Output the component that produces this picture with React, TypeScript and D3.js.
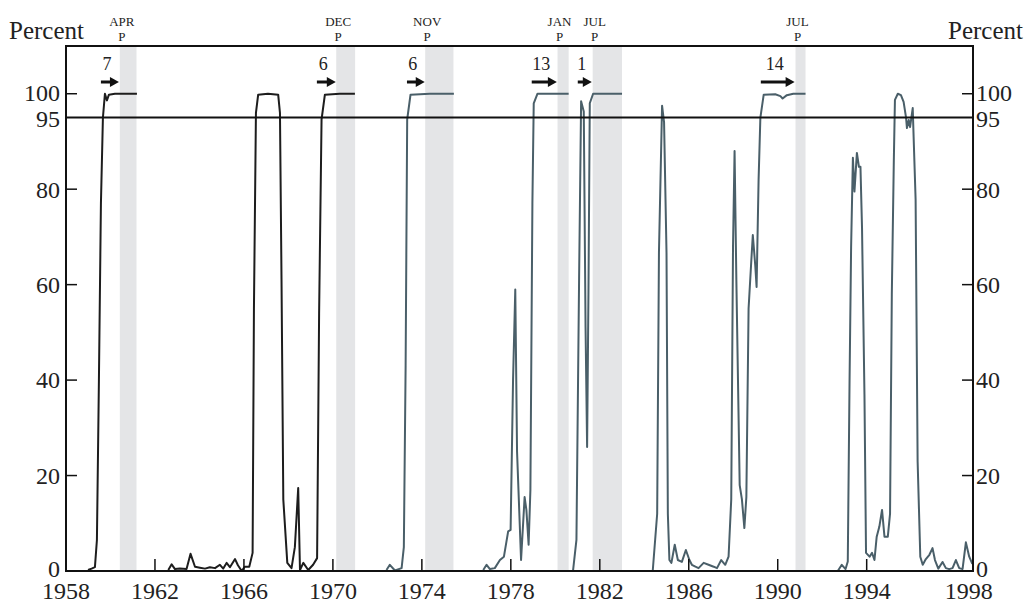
import React, { useRef, useEffect } from "react";
import * as d3 from "d3";

// [year, percent] readings; a null value breaks the line
const earlySeries: [number, number | null][] = [
  [1958.99, 0.2], [1959.15, 0.5], [1959.3, 0.8], [1959.39, 6.5], [1959.48, 40],
  [1959.57, 77], [1959.66, 95], [1959.75, 100], [1959.84, 98.6], [1959.93, 99.8],
  [1960.2, 100], [1960.8, 100], [1961.19, 100], [1961.9, null],
  [1962.6, 0.2], [1962.75, 1.4], [1962.9, 0.4], [1963.12, 0.5], [1963.42, 0.4],
  [1963.6, 3.6], [1963.8, 0.9], [1964.02, 0.7], [1964.25, 0.5], [1964.47, 0.8],
  [1964.7, 0.6], [1964.92, 1.3], [1965.07, 0.5], [1965.22, 1.7], [1965.37, 0.8],
  [1965.6, 2.5], [1965.73, 1.2], [1965.9, 0], [1966.04, 0.9], [1966.24, 0.9],
  [1966.39, 3.8], [1966.45, 55], [1966.54, 96], [1966.64, 99.8], [1967.08, 100],
  [1967.54, 99.8], [1967.62, 96], [1967.69, 61], [1967.77, 15], [1967.95, 1.7],
  [1968.14, 0.6], [1968.29, 5], [1968.44, 17.4], [1968.52, 0.2], [1968.67, 1.7],
  [1968.89, 0.2], [1969.11, 1.3], [1969.29, 2.7], [1969.38, 54], [1969.49, 94.6],
  [1969.64, 99.8], [1970.31, 100], [1970.99, 100],
];

const lateSeries: [number, number | null][] = [
  [1972.41, 0.2], [1972.56, 1.3], [1972.79, 0.1], [1973.09, 0.6], [1973.19, 5],
  [1973.27, 43], [1973.34, 94.6], [1973.49, 99.8], [1974.36, 100], [1975.44, 100],
  [1976.0, null],
  [1976.76, 0.2], [1976.91, 1.3], [1977.06, 0.4], [1977.28, 0.6], [1977.51, 2.3],
  [1977.69, 3], [1977.88, 8.3], [1977.99, 8.6], [1978.1, 40], [1978.2, 59],
  [1978.28, 25], [1978.46, 2.3], [1978.62, 15.5], [1978.7, 12.8], [1978.8, 5.5],
  [1978.88, 17], [1978.97, 77], [1979.03, 98], [1979.2, 100], [1980.6, 100],
  [1980.7, null],
  [1980.8, 0.2], [1980.95, 6.5], [1981.07, 61.6], [1981.16, 98.4], [1981.28, 96.3],
  [1981.36, 51], [1981.43, 26], [1981.49, 58], [1981.55, 98], [1981.7, 100],
  [1983.0, 100], [1983.6, null],
  [1984.38, 0], [1984.58, 12], [1984.66, 66.7], [1984.8, 97.5], [1984.89, 94],
  [1985.0, 66.7], [1985.06, 12], [1985.13, 2.3], [1985.22, 1.7], [1985.37, 5.5],
  [1985.51, 2.3], [1985.69, 1.9], [1985.87, 4.4], [1986.03, 2.3], [1986.14, 1.3],
  [1986.3, 0.9], [1986.44, 0.6], [1986.67, 1.7], [1986.89, 1.3], [1987.12, 0.9],
  [1987.27, 0.6], [1987.46, 2.3], [1987.64, 1.3], [1987.79, 3], [1987.91, 15],
  [1987.99, 68], [1988.06, 88], [1988.14, 61], [1988.29, 18], [1988.39, 15],
  [1988.5, 9], [1988.59, 15.5], [1988.69, 55], [1988.8, 64], [1988.88, 70.4],
  [1988.99, 64], [1989.05, 59.5], [1989.14, 82], [1989.22, 95], [1989.37, 99.8],
  [1989.89, 99.9], [1990.12, 99.5], [1990.22, 99], [1990.41, 99.7], [1990.7, 100],
  [1991.25, 100], [1992.0, null],
  [1992.7, 0], [1992.88, 1.3], [1993.05, 0.4], [1993.15, 2], [1993.23, 40],
  [1993.3, 68], [1993.38, 86.6], [1993.45, 79.5], [1993.56, 87.6], [1993.65, 84.7],
  [1993.72, 84.7], [1993.79, 72], [1993.9, 37], [1993.97, 3.8], [1994.13, 3],
  [1994.24, 3.8], [1994.35, 2.3], [1994.45, 7.2], [1994.57, 9.3], [1994.69, 12.8],
  [1994.8, 7.2], [1994.95, 7.2], [1995.05, 12], [1995.13, 58], [1995.22, 86],
  [1995.27, 98.7], [1995.4, 100], [1995.54, 99.7], [1995.66, 98.3], [1995.77, 95],
  [1995.81, 92.8], [1995.89, 94.5], [1995.95, 93], [1996.07, 97], [1996.11, 91],
  [1996.2, 77.8], [1996.29, 23], [1996.41, 3], [1996.52, 1.3], [1996.66, 2.5],
  [1996.82, 3.4], [1996.96, 4.8], [1997.07, 2.3], [1997.22, 0.5], [1997.41, 1.9],
  [1997.56, 0.6], [1997.71, 0.4], [1997.86, 0.6], [1998.01, 2.3], [1998.16, 0.6],
  [1998.31, 0.4], [1998.46, 6], [1998.61, 3], [1998.75, 1.5],
];

// recessions: shaded from start to end, labelled with the peak month
const recessionStart = [1960.42, 1970.15, 1974.15, 1980.1, 1981.68, 1990.8];
const recessionEnd = [1961.17, 1971.0, 1975.42, 1980.6, 1983.0, 1991.25];
const peakMonths = ["APR", "DEC", "NOV", "JAN", "JUL", "JUL"];

// lead-time arrows
const leadStart = [1959.57, 1969.28, 1973.33, 1978.94, 1981.01, 1989.24];
const leadEnd = [1960.38, 1970.13, 1974.13, 1980.07, 1981.64, 1990.76];
const leadMonths = ["7", "6", "6", "13", "1", "14"];

const yTicks = [0, 20, 40, 60, 80, 95, 100];
const xTickYears = [1958, 1962, 1966, 1970, 1974, 1978, 1982, 1986, 1990, 1994, 1998];

const FONT = "'Liberation Serif', 'Times New Roman', serif";

const App = () => {
  const svgRef = useRef(null);

  useEffect(() => {
    document.body.style.margin = "0";

    const width = 1027;
    const height = 605;
    const frame = { left: 66, right: 973, top: 46, bottom: 571 };

    const svg = d3.select(svgRef.current).attr("width", width).attr("height", height);
    svg.selectAll("*").remove();

    const xScale = d3.scaleLinear().domain([1958, 1998.78]).range([frame.left, frame.right]);
    const yScale = d3.scaleLinear().domain([0, 110]).range([frame.bottom, frame.top]);

    // shaded recessions
    svg
      .append("g")
      .selectAll("rect")
      .data(recessionStart)
      .join("rect")
      .attr("x", (d) => xScale(d))
      .attr("y", frame.top)
      .attr("width", (d, i) => xScale(recessionEnd[i]) - xScale(d))
      .attr("height", frame.bottom - frame.top)
      .attr("fill", "#e4e5e7");

    // peak labels
    const peaks = svg.append("g").style("font-family", FONT).style("font-size", "13px").attr("fill", "#222");
    recessionStart.forEach((d, i) => {
      peaks.append("text").attr("x", xScale(d) + 2).attr("y", 26).attr("text-anchor", "middle").text(peakMonths[i]);
      peaks.append("text").attr("x", xScale(d) + 2).attr("y", 41).attr("text-anchor", "middle").text("P");
    });

    // lines
    const line = d3
      .line<[number, number | null]>()
      .defined((d) => d[1] !== null)
      .x((d) => xScale(d[0]))
      .y((d) => yScale(d[1] as number));

    svg
      .append("path")
      .datum(earlySeries)
      .attr("d", line)
      .attr("fill", "none")
      .attr("stroke", "#1d1d1d")
      .attr("stroke-width", 2)
      .attr("stroke-linejoin", "round");

    svg
      .append("path")
      .datum(lateSeries)
      .attr("d", line)
      .attr("fill", "none")
      .attr("stroke", "#4a5f69")
      .attr("stroke-width", 2)
      .attr("stroke-linejoin", "round");

    // 95 percent threshold
    svg
      .append("line")
      .attr("x1", frame.left)
      .attr("x2", frame.right)
      .attr("y1", yScale(95))
      .attr("y2", yScale(95))
      .attr("stroke", "#111")
      .attr("stroke-width", 2);

    // frame
    svg
      .append("rect")
      .attr("x", frame.left)
      .attr("y", frame.top)
      .attr("width", frame.right - frame.left)
      .attr("height", frame.bottom - frame.top)
      .attr("fill", "none")
      .attr("stroke", "#111")
      .attr("stroke-width", 2);

    // y ticks both sides
    const yAxisG = svg.append("g").style("font-family", FONT).style("font-size", "24px").attr("fill", "#222");
    yTicks.forEach((v) => {
      const y = yScale(v);
      let dy = "0.35em";
      if (v === 0) dy = "0.25em";
      if (v === 100) dy = "0.3em";
      if (v === 95) dy = "0.4em";
      if (v !== 95) {
        yAxisG.append("line").attr("x1", frame.left).attr("x2", frame.left + 11).attr("y1", y).attr("y2", y).attr("stroke", "#111").attr("stroke-width", 1.5);
        yAxisG.append("line").attr("x1", frame.right - 11).attr("x2", frame.right).attr("y1", y).attr("y2", y).attr("stroke", "#111").attr("stroke-width", 1.5);
      }
      yAxisG.append("text").attr("x", frame.left - 6).attr("y", y).attr("dy", dy).attr("text-anchor", "end").text(v);
      yAxisG.append("text").attr("x", frame.right + 3).attr("y", y).attr("dy", dy).attr("text-anchor", "start").text(v);
    });

    // x ticks
    const xAxisG = svg.append("g").style("font-family", FONT).style("font-size", "24px").attr("fill", "#222");
    xTickYears.forEach((yr, i) => {
      const x = xScale(yr);
      if (i > 0 && i < xTickYears.length - 1) {
        xAxisG.append("line").attr("x1", x).attr("x2", x).attr("y1", frame.bottom).attr("y2", frame.bottom - 12).attr("stroke", "#111").attr("stroke-width", 1.5);
      }
      const shift = i === xTickYears.length - 1 ? 13 : 0;
      xAxisG.append("text").attr("x", x + shift).attr("y", 599).attr("text-anchor", "middle").text(yr);
    });

    // axis titles
    svg.append("text").attr("x", 9).attr("y", 39).style("font-family", FONT).style("font-size", "25px").attr("fill", "#222").text("Percent");
    svg.append("text").attr("x", 1023).attr("y", 39).attr("text-anchor", "end").style("font-family", FONT).style("font-size", "25px").attr("fill", "#222").text("Percent");

    // lead arrows
    const arrows = svg.append("g");
    leadStart.forEach((s, i) => {
      const x0 = xScale(s);
      const x1 = xScale(leadEnd[i]);
      const y = 82;
      const head = 9;
      if (x1 - head > x0) {
        arrows.append("line").attr("x1", x0).attr("x2", x1 - head + 1).attr("y1", y).attr("y2", y).attr("stroke", "#111").attr("stroke-width", 3);
      }
      arrows.append("path").attr("d", `M${x1 - head},${y - 5}L${x1},${y}L${x1 - head},${y + 5}Z`).attr("fill", "#111");
      arrows
        .append("text")
        .attr("x", (x0 + x1) / 2 - 3)
        .attr("y", 70)
        .attr("text-anchor", "middle")
        .style("font-family", FONT)
        .style("font-size", "18px")
        .attr("fill", "#222")
        .text(leadMonths[i]);
    });
  }, []);

  return (
    <div>
      <svg ref={svgRef} />
    </div>
  );
};

export default App;
